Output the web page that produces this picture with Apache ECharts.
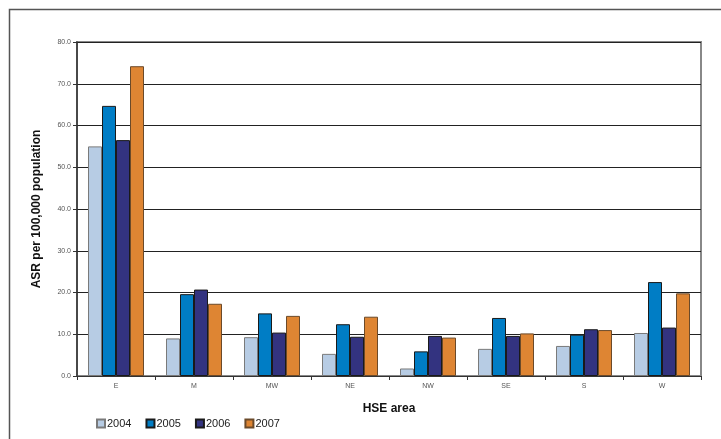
<!DOCTYPE html>
<html>
<head>
<meta charset="utf-8">
<script src="https://cdn.jsdelivr.net/npm/echarts@6/dist/echarts.min.js"></script>
<style>
  html, body { margin: 0; padding: 0; background: #fff; }
  #chart { width: 721px; height: 439px; }
</style>
</head>
<body>
<div id="chart"></div>
<script>
// HSE areas and age-standardised rates per 100,000 population, by year
const areas = ['E', 'M', 'MW', 'NE', 'NW', 'SE', 'S', 'W'];
const years = ['2004', '2005', '2006', '2007'];
const rate2004 = [55.0, 9.0, 9.3, 5.3, 1.8, 6.5, 7.2, 10.3];
const rate2005 = [64.7, 19.6, 15.0, 12.4, 5.9, 13.9, 9.9, 22.5];
const rate2006 = [56.5, 20.7, 10.4, 9.4, 9.6, 9.6, 11.2, 11.6];
const rate2007 = [74.2, 17.3, 14.4, 14.2, 9.2, 10.2, 11.0, 19.8];

const seriesData = [rate2004, rate2005, rate2006, rate2007];
const fills = ['#B7CCE4', '#007DC5', '#333380', '#DE8533'];
const edges = ['#7a7a7a', '#1a1a1a', '#1a1a1a', '#6b4a2a'];

const chart = echarts.init(document.getElementById('chart'), null, { renderer: 'canvas' });

chart.setOption({
  animation: false,
  backgroundColor: '#ffffff',
  textStyle: { fontFamily: 'Liberation Sans, Arial, sans-serif' },
  graphic: [{
    type: 'rect',
    shape: { x: 9.5, y: 9.5, width: 800, height: 800 },
    style: { fill: 'none', stroke: '#555', lineWidth: 1.5 },
    silent: true
  }],
  grid: {
    left: 77, right: 20, top: 42, bottom: 63,
    show: true,
    borderColor: '#888',
    borderWidth: 2,
    backgroundColor: 'transparent'
  },
  legend: {
    left: 91, top: 413,
    icon: 'rect',
    itemWidth: 8, itemHeight: 8,
    itemGap: 14,
    textStyle: { fontSize: 11, color: '#222', padding: [0, 0, 0, -3] },
    data: years
  },
  xAxis: {
    type: 'category',
    data: areas,
    name: 'HSE area',
    nameLocation: 'middle',
    nameGap: 27,
    nameTextStyle: { fontSize: 12, fontWeight: 'bold', color: '#111' },
    axisLine: { lineStyle: { color: '#333', width: 1 } },
    axisTick: { show: true, length: 4, lineStyle: { color: '#333' } },
    axisLabel: { fontSize: 7, color: '#555', margin: 7 }
  },
  yAxis: {
    type: 'value',
    min: 0, max: 80, interval: 10,
    name: 'ASR per 100,000 population',
    nameLocation: 'middle',
    nameGap: 34,
    nameRotate: 90,
    nameTextStyle: { fontSize: 12, fontWeight: 'bold', color: '#111' },
    axisLine: { show: true, lineStyle: { color: '#333', width: 1.5 } },
    axisTick: { show: true, length: 4, lineStyle: { color: '#333' } },
    axisLabel: { fontSize: 7, color: '#555', margin: 6, formatter: v => v.toFixed(1) },
    splitLine: { show: true, lineStyle: { color: '#222', width: 1 } }
  },
  series: years.map((y, i) => ({
    name: y,
    type: 'bar',
    data: seriesData[i],
    barWidth: 14,
    barGap: '0%',
    itemStyle: { color: fills[i], borderColor: edges[i], borderWidth: 1 }
  }))
});
</script>
</body>
</html>
